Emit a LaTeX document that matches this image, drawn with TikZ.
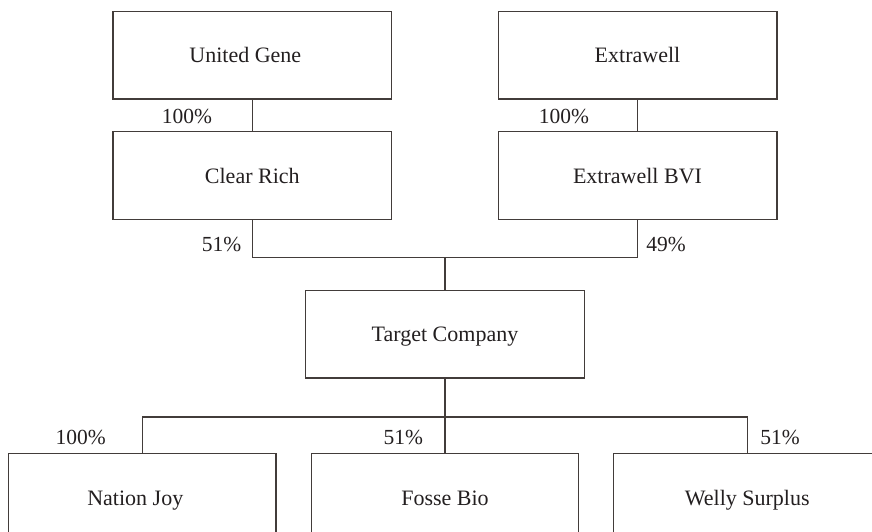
\documentclass[tikz,border=0pt]{standalone}
\usepackage{fontspec}
\setmainfont{Liberation Serif}
\definecolor{ln}{RGB}{66,60,58}
\definecolor{tx}{RGB}{35,31,32}
\begin{document}
\begin{tikzpicture}[x=1pt,y=-1pt,
  box/.style={draw=ln, line width=1.4pt, minimum width=278.6pt, minimum height=87.5pt,
    inner sep=0pt, text=tx, font=\fontsize{22}{26}\selectfont, text height=15pt, text depth=0pt},
  lowbox/.style={box, minimum width=267.3pt},
  pct/.style={text=tx, inner sep=0pt, font=\fontsize{21.5}{26}\selectfont},
  conn/.style={draw=ln, line width=1.4pt}]
\useasboundingbox (0,0) rectangle (872,532);
\clip (0,0) rectangle (872,532);
\node[box] (UG) at (252.3,55.3) {United Gene\rule{14pt}{0pt}};
\node[box] (EW) at (637.5,55.3) {Extrawell};
\node[box] (CR) at (252.3,175.5) {Clear Rich};
\node[box] (EB) at (637.5,175.5) {Extrawell BVI};
\node[box] (TC) at (445,334.3) {Target Company};
\node[lowbox] (NJ) at (142.3,497.5) {Nation Joy\rule{14pt}{0pt}};
\node[lowbox] (FB) at (445,497.5) {Fosse Bio};
\node[lowbox] (WS) at (747.3,497.5) {Welly Surplus};
\coordinate (m) at (445,257.7);
\coordinate (b) at (445,417);
\draw[conn] (UG) -- (CR);
\draw[conn] (EW) -- (EB);
\draw[conn] (CR.south) |- (m) -| (EB.south);
\draw[conn] (m) -- (TC.north);
\draw[conn] (TC.south) -- (b);
\draw[conn] (NJ.north) |- (b) -| (WS.north);
\draw[conn] (b) -- (FB.north);
\node[pct] (p1) at (187,116.5) {100\%};
\node[pct] (p2) at (564,116.5) {100\%};
\node[pct] (p3) at (221.7,244.3) {51\%};
\node[pct] (p4) at (666,244.3) {49\%};
\node[pct] (p5) at (80.7,437.7) {100\%};
\node[pct] (p6) at (403.3,437.7) {51\%};
\node[pct] (p7) at (780,437.7) {51\%};
\end{tikzpicture}
\end{document}
